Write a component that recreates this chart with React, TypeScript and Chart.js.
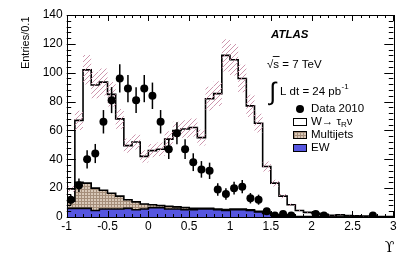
import React, { useEffect, useRef } from "react";
import { Chart, registerables } from "chart.js";

Chart.register(...registerables);

// ---- data (bins of width 0.1 in Upsilon) ----
const BIN_EDGES = [
  -1.0, -0.9, -0.8, -0.7, -0.6, -0.5, -0.4, -0.3, -0.2, -0.1,
  0.0, 0.1, 0.2, 0.3, 0.4, 0.5, 0.6, 0.7, 0.8, 0.9,
  1.0, 1.1, 1.2, 1.3, 1.4, 1.5, 1.6, 1.7, 1.8, 1.9,
  2.0, 2.1, 2.2, 2.3, 2.4, 2.5, 2.6, 2.7, 2.8, 2.9, 3.0,
];

const DATA_2010 = [
  12, 22, 40, 44, 66, 81, 96, 89, 81, 89,
  84, 66, 47, 58, 47, 38, 33, 32, 19, 16,
  20, 21, 13, 12, 4, 1, 2, 1, 0, 0,
  2, 1, 0, 0, 0, 0, 0, 1, 0, 0,
];

const EW = [
  6, 6, 6, 4.5, 5.5, 5.5, 5.5, 6, 5, 5.5,
  6.5, 6.5, 5.5, 5.5, 5, 5, 5.5, 5.5, 5, 4.5,
  5, 5, 4.5, 3.5, 2.5, 1, 0.5, 0.3, 0.2, 0.2,
  0.2, 0.1, 0, 0, 0, 0, 0, 0, 0, 0,
];

const MULTIJETS = [
  5, 18, 17.5, 15.5, 13, 11, 9, 6, 5.5, 3.5,
  2, 1.5, 2, 1.5, 1.5, 1, 0.5, 0.5, 0.5, 0.7,
  0.5, 0.5, 0.5, 0.5, 0.5, 0.5, 0.3, 0.2, 0.1, 0.1,
  0, 0, 0, 0, 0, 0, 0, 0, 0, 0,
];

const W_TAUNU = [
  8.5, 43, 78.5, 71.5, 75, 68.5, 53.5, 37.5, 41.5, 33,
  37.5, 39, 46.5, 53, 54.5, 56, 49, 76, 80, 106.8,
  103.5, 90.5, 72, 61, 32, 22, 13.7, 8, 4.2, 2.9,
  2.3, 1.7, 1.2, 1.5, 1, 0.8, 0.6, 0.5, 0.3, 0.3,
];

const SYST_REL = [0.1]; // relative uncertainty of the prediction band

const X_TICKS = [-1, -0.5, 0, 0.5, 1, 1.5, 2, 2.5, 3];
const Y_TICKS = [0, 20, 40, 60, 80, 100, 120, 140];

const FONT = '"Liberation Sans", Arial, Helvetica, sans-serif';
const EW_COLOR = "#5656e0";

function stepPoints(vals: number[]) {
  const pts = vals.map((v, i) => ({ x: BIN_EDGES[i], y: v }));
  pts.push({ x: BIN_EDGES[vals.length], y: vals[vals.length - 1] });
  return pts;
}

function makeMjPattern(): CanvasPattern | string {
  const c = document.createElement("canvas");
  c.width = 3;
  c.height = 3;
  const g = c.getContext("2d");
  if (!g) return "#c4b09c";
  g.fillStyle = "#d8c8b8";
  g.fillRect(0, 0, 3, 3);
  g.fillStyle = "#a58e7a";
  g.fillRect(0, 0, 3, 1);
  g.fillRect(0, 0, 1, 3);
  return g.createPattern(c, "repeat") || "#c4b09c";
}

function makeHatchPattern(): CanvasPattern | string {
  const s = 5;
  const c = document.createElement("canvas");
  c.width = s;
  c.height = s;
  const g = c.getContext("2d");
  if (!g) return "rgba(210,160,180,0.5)";
  g.strokeStyle = "rgba(200,140,165,0.9)";
  g.lineWidth = 1;
  g.beginPath();
  g.moveTo(0, s);
  g.lineTo(s, 0);
  g.moveTo(-1, 1);
  g.lineTo(1, -1);
  g.moveTo(s - 1, s + 1);
  g.lineTo(s + 1, s - 1);
  g.stroke();
  return g.createPattern(c, "repeat") || "rgba(210,160,180,0.5)";
}

export default function App() {
  const ref = useRef<HTMLCanvasElement | null>(null);

  useEffect(() => {
    const canvas = ref.current;
    if (!canvas) return;

    const mjPattern = makeMjPattern();
    const hatch = makeHatchPattern();

    const ewTop = EW.slice();
    const mjTop = EW.map((v, i) => v + MULTIJETS[i]);
    const total = mjTop.map((v, i) => v + W_TAUNU[i]);
    const bandUp = total.map((v) => v * (1 + SYST_REL[0]));
    const bandLo = total.map((v) => v * (1 - SYST_REL[0]));

    const dataPts: { x: number; y: number }[] = [];
    DATA_2010.forEach((v, i) => {
      if (v > 0) dataPts.push({ x: (BIN_EDGES[i] + BIN_EDGES[i + 1]) / 2, y: v });
    });

    const histBase = {
      type: "line" as const,
      stepped: "before" as const,
      pointRadius: 0,
      borderColor: "#000",
      borderWidth: 1.6,
      tension: 0,
    };

    const decor = {
      id: "decor",
      afterDraw(chart: any) {
        const ctx = chart.ctx as CanvasRenderingContext2D;
        const { left, right, top, bottom } = chart.chartArea;
        const xs = chart.scales.x;
        const ys = chart.scales.y;
        ctx.save();

        // error bars
        ctx.strokeStyle = "#000";
        ctx.lineWidth = 1.5;
        DATA_2010.forEach((v, i) => {
          if (v <= 0) return;
          const e = Math.sqrt(v);
          const px = xs.getPixelForValue((BIN_EDGES[i] + BIN_EDGES[i + 1]) / 2);
          ctx.beginPath();
          ctx.moveTo(px, ys.getPixelForValue(Math.max(0, v - e)));
          ctx.lineTo(px, ys.getPixelForValue(v + e));
          ctx.stroke();
        });

        // frame
        ctx.lineWidth = 1;
        ctx.strokeRect(Math.round(left) + 0.5, Math.round(top) + 0.5, Math.round(right - left), Math.round(bottom - top));

        // x ticks (inside, top & bottom)
        ctx.beginPath();
        for (let k = 0; k <= 40; k++) {
          const v = -1 + k * 0.1;
          const px = Math.round(xs.getPixelForValue(v)) + 0.5;
          const len = k % 5 === 0 ? 6 : 3;
          ctx.moveTo(px, bottom);
          ctx.lineTo(px, bottom - len);
          ctx.moveTo(px, top);
          ctx.lineTo(px, top + len);
        }
        // y ticks (inside, left & right)
        for (let k = 0; k <= 35; k++) {
          const v = k * 4;
          const py = Math.round(ys.getPixelForValue(v)) + 0.5;
          const len = k % 5 === 0 ? 9 : 4.5;
          ctx.moveTo(left, py);
          ctx.lineTo(left + len, py);
          ctx.moveTo(right, py);
          ctx.lineTo(right - len, py);
        }
        ctx.stroke();

        ctx.fillStyle = "#000";
        // y title
        ctx.save();
        ctx.translate(28.5, top + 1.5);
        ctx.rotate(-Math.PI / 2);
        ctx.font = `11px ${FONT}`;
        ctx.textAlign = "right";
        ctx.textBaseline = "alphabetic";
        ctx.fillText("Entries/0.1", 0, 0);
        ctx.restore();

        // x title
        ctx.font = `14px "DejaVu Serif", serif`;
        ctx.textAlign = "right";
        ctx.textBaseline = "alphabetic";
        ctx.fillText("\u03D2", right + 1, 252);

        // ATLAS label
        ctx.textAlign = "left";
        ctx.font = `italic bold 11.5px ${FONT}`;
        ctx.fillText("ATLAS", 271, 38);

        // sqrt(s)
        ctx.font = `11.5px ${FONT}`;
        ctx.fillText("\u221A", 267, 67.5);
        const rw = ctx.measureText("\u221A").width;
        const sw = ctx.measureText("s").width;
        ctx.beginPath();
        ctx.lineWidth = 0.9;
        ctx.moveTo(267 + rw - 0.5, 56.5);
        ctx.lineTo(267 + rw + sw + 0.5, 56.5);
        ctx.stroke();
        ctx.fillText("s = 7 TeV", 267 + rw, 67.5);

        // luminosity
        ctx.font = `25px ${FONT}`;
        ctx.fillText("\u222B", 269.5, 100);
        ctx.font = `11.5px ${FONT}`;
        ctx.fillText("L dt = 24 pb", 280, 95);
        const lw = ctx.measureText("L dt = 24 pb").width;
        ctx.font = `8px ${FONT}`;
        ctx.fillText("-1", 280 + lw + 0.5, 89);

        // legend
        const lx = 293.5;
        const tx = 311;
        const rows = [109, 122, 135, 148];
        ctx.textBaseline = "middle";
        ctx.font = `11.5px ${FONT}`;
        // data
        ctx.beginPath();
        ctx.arc(300, rows[0], 4, 0, Math.PI * 2);
        ctx.fill();
        ctx.fillText("Data 2010", tx, rows[0]);
        // W
        ctx.lineWidth = 1;
        ctx.fillStyle = "#fff";
        ctx.fillRect(lx, rows[1] - 3.5, 13, 7);
        ctx.strokeRect(lx, rows[1] - 3.5, 13, 7);
        ctx.fillStyle = "#000";
        let cx = tx;
        ctx.fillText("W\u2192 \u03C4", cx, rows[1]);
        cx += ctx.measureText("W\u2192 \u03C4").width;
        ctx.font = `8px ${FONT}`;
        ctx.fillText("R", cx, rows[1] + 3);
        cx += ctx.measureText("R").width;
        ctx.font = `11.5px ${FONT}`;
        ctx.fillText("\u03BD", cx, rows[1]);
        // MJ
        ctx.fillStyle = mjPattern as any;
        ctx.fillRect(lx, rows[2] - 3.5, 13, 7);
        ctx.strokeRect(lx, rows[2] - 3.5, 13, 7);
        ctx.fillStyle = "#000";
        ctx.fillText("Multijets", tx, rows[2]);
        // EW
        ctx.fillStyle = EW_COLOR;
        ctx.fillRect(lx, rows[3] - 3.5, 13, 7);
        ctx.strokeRect(lx, rows[3] - 3.5, 13, 7);
        ctx.fillStyle = "#000";
        ctx.fillText("EW", tx, rows[3]);

        ctx.restore();
      },
    };

    const chart = new Chart(canvas, {
      type: "line",
      data: {
        datasets: [
          {
            ...histBase,
            label: "W",
            data: stepPoints(total),
            fill: "origin",
            backgroundColor: "#ffffff",
            order: 6,
          },
          {
            ...histBase,
            label: "Multijets",
            data: stepPoints(mjTop),
            fill: "origin",
            backgroundColor: mjPattern as any,
            order: 5,
          },
          {
            ...histBase,
            label: "EW",
            data: stepPoints(ewTop),
            fill: "origin",
            backgroundColor: EW_COLOR,
            order: 4,
          },
          {
            ...histBase,
            label: "band up",
            data: stepPoints(bandUp),
            fill: "+1",
            borderColor: "rgba(0,0,0,0)",
            borderWidth: 0,
            backgroundColor: hatch as any,
            order: 3,
          },
          {
            ...histBase,
            label: "band lo",
            data: stepPoints(bandLo),
            fill: false,
            borderColor: "rgba(0,0,0,0)",
            borderWidth: 0,
            order: 2,
          },
          {
            type: "line",
            label: "Data 2010",
            data: dataPts,
            showLine: false,
            pointRadius: 4,
            pointHoverRadius: 4,
            pointBackgroundColor: "#000",
            pointBorderColor: "#000",
            pointBorderWidth: 0,
            order: 0,
          } as any,
        ],
      },
      options: {
        animation: false,
        responsive: false,
        devicePixelRatio: 1,
        events: [],
        layout: { padding: { top: 15, right: 21.7, bottom: 0, left: 0 } },
        plugins: {
          legend: { display: false },
          tooltip: { enabled: false },
        },
        scales: {
          x: {
            type: "linear",
            min: -1,
            max: 3,
            grid: { display: false, drawTicks: false },
            border: { display: false },
            afterBuildTicks: (axis: any) => {
              axis.ticks = X_TICKS.map((v) => ({ value: v }));
            },
            afterFit: (s: any) => {
              s.height = 42;
            },
            ticks: {
              color: "#000",
              font: { family: FONT, size: 12 },
              padding: 2,
              maxRotation: 0,
              autoSkip: false,
              callback: (v: any) => String(Number(v)),
            },
          },
          y: {
            type: "linear",
            min: 0,
            max: 140,
            grid: { display: false, drawTicks: false },
            border: { display: false },
            afterBuildTicks: (axis: any) => {
              axis.ticks = Y_TICKS.map((v) => ({ value: v }));
            },
            afterFit: (s: any) => {
              s.width = 66.7;
            },
            ticks: {
              color: "#000",
              font: { family: FONT, size: 12 },
              padding: 4,
              autoSkip: false,
              callback: (v: any) => String(Number(v)),
            },
          },
        },
      },
      plugins: [decor],
    } as any);

    return () => chart.destroy();
  }, []);

  return (
    <div style={{ position: "absolute", left: 0, top: 0, width: 415, height: 259, background: "#fff" }}>
      <canvas ref={ref} width={415} height={259} style={{ width: 415, height: 259, display: "block" }} />
    </div>
  );
}
